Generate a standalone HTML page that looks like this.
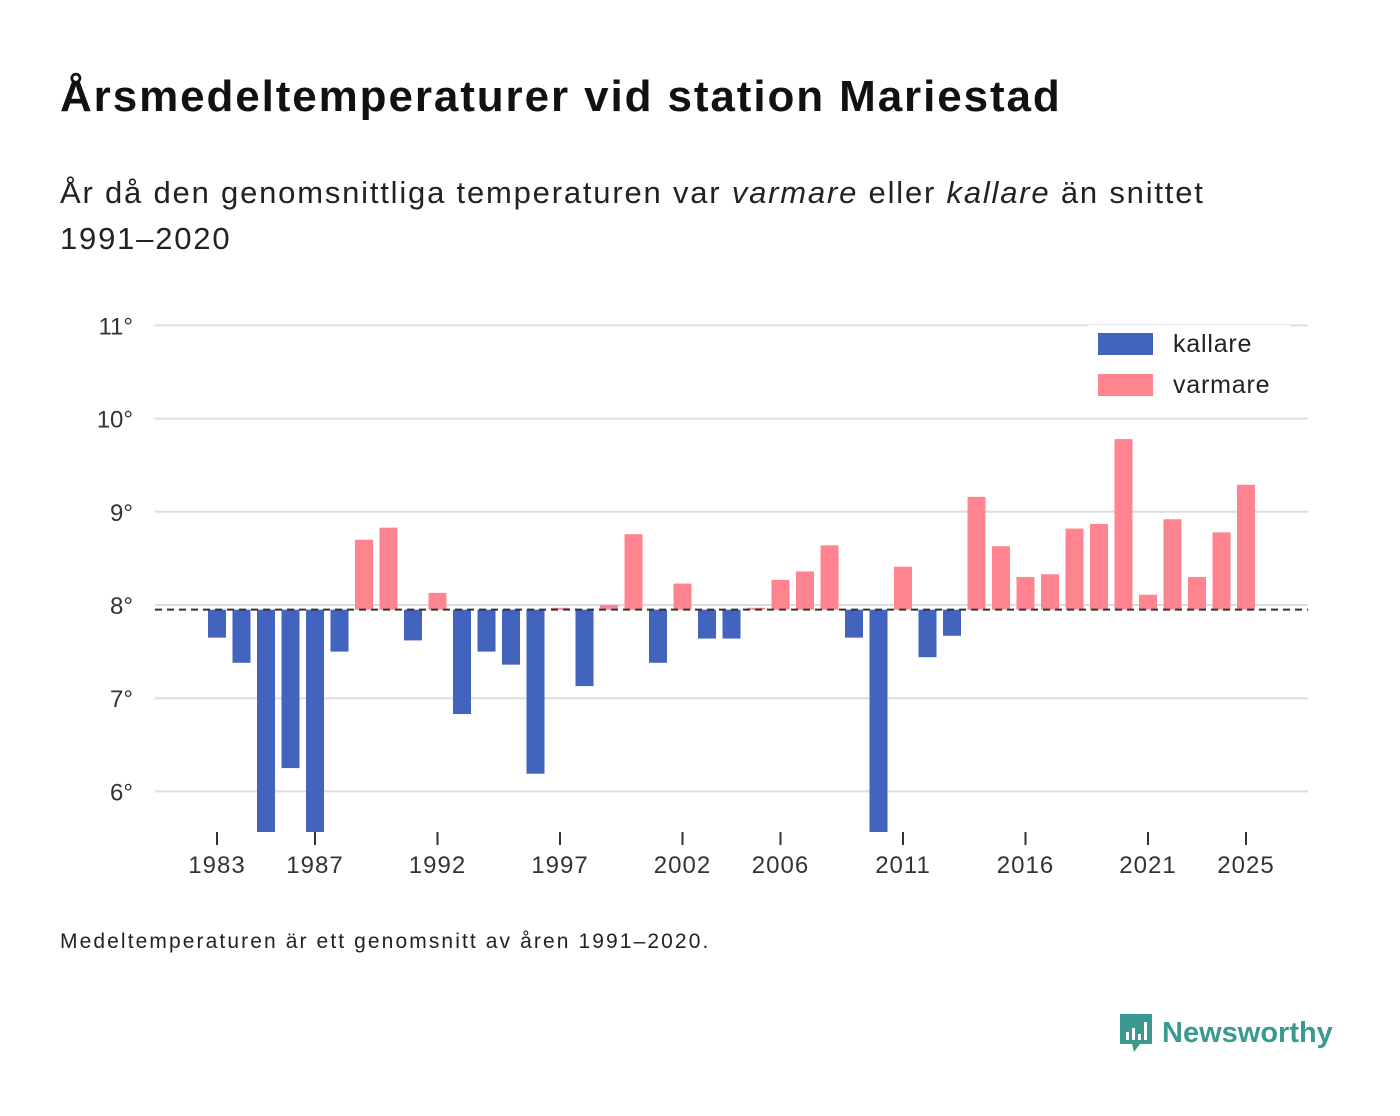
<!DOCTYPE html>
<html><head><meta charset="utf-8"><style>
body{margin:0;background:#fff;font-family:"Liberation Sans","DejaVu Sans",sans-serif;}
#wrap{position:relative;width:1400px;height:1116px;overflow:hidden;}
h1{position:absolute;left:60px;top:72px;margin:0;font-size:44px;letter-spacing:1.9px;font-weight:bold;color:#111;white-space:nowrap;}
.sub{position:absolute;left:60px;top:170px;font-size:31px;letter-spacing:1.8px;color:#222;line-height:46px;width:1210px;}
.note{position:absolute;left:60px;top:930px;font-size:21px;letter-spacing:2.1px;color:#222;}
.logo{position:absolute;left:1118px;top:1012px;font-size:29px;font-weight:bold;color:#3a9a8f;display:flex;align-items:center;gap:8px;}
</style></head><body><div id="wrap">
<h1>Årsmedeltemperaturer vid station Mariestad</h1>
<div class="sub">År då den genomsnittliga temperaturen var <i>varmare</i> eller <i>kallare</i> än snittet 1991–2020</div>
<svg id="chart" width="1400" height="1116" style="position:absolute;left:0;top:0"></svg>
<div class="note">Medeltemperaturen är ett genomsnitt av åren 1991–2020.</div>
<div class="logo"><svg width="36" height="42" viewBox="0 0 36 42"><path d="M2 2h32v30H22l-6 8-2-8H2z" fill="#3a9a8f"/><rect x="8" y="20" width="3" height="8" fill="#fff"/><rect x="14" y="16" width="3" height="12" fill="#fff"/><rect x="20" y="22" width="3" height="6" fill="#fff"/><rect x="26" y="10" width="3" height="18" fill="#fff"/></svg><span>Newsworthy</span></div>
</div>
<script>
const years=[];for(let y=1983;y<=2025;y++)years.push(y);
const values=[7.65,7.38,5.4,6.25,5.4,7.5,8.70,8.83,7.62,8.13,6.83,7.50,7.36,6.19,7.97,7.13,8.0,8.76,7.38,8.23,7.64,7.64,7.97,8.27,8.36,8.64,7.65,5.4,8.41,7.44,7.67,9.16,8.63,8.30,8.33,8.82,8.87,9.78,8.11,8.92,8.30,8.78,9.29];
const mean=7.95;
const yTicks=[6,7,8,9,10,11];
const xTickYears=[1983,1987,1992,1997,2002,2006,2011,2016,2021,2025];
const NS="http://www.w3.org/2000/svg";
const svg=document.getElementById('chart');
const X=y=>217+(y-1983)*24.5;
const Y=v=>605-(v-8)*93.2;
const clipB=832;
function el(t,a){const e=document.createElementNS(NS,t);for(const k in a)e.setAttribute(k,a[k]);svg.appendChild(e);return e;}
yTicks.forEach(t=>{
 const l=el('line',{x1:155,x2:1308,y1:Y(t),y2:Y(t),stroke:'#ddd','stroke-width':2});
 
 
 const tx=el('text',{x:133,y:Y(t)+9,'text-anchor':'end','font-size':24,fill:'#333','font-family':'Liberation Sans, sans-serif'});
 tx.textContent=t+'°';
 
 
});
years.forEach((yr,i)=>{
 const v=values[i];const warm=v>=mean;
 let y1=Y(mean),y2=Y(v);let top=Math.min(y1,y2),bot=Math.min(Math.max(y1,y2),clipB);
 const r=el('rect',{x:X(yr)-9,y:top,width:18,height:Math.max(bot-top,1),fill:warm?'#ff8490':'#4263be'});
 
 
});
const ml=el('line',{x1:155,x2:1308,y1:Y(mean),y2:Y(mean),stroke:'#333','stroke-width':2,'stroke-dasharray':'7,5'});


xTickYears.forEach(yr=>{
 const l=el('line',{x1:X(yr),x2:X(yr),y1:832,y2:845,stroke:'#333','stroke-width':2});
 
 
 const t=el('text',{x:X(yr),y:873,'text-anchor':'middle','font-size':24,'letter-spacing':1,fill:'#333','font-family':'Liberation Sans, sans-serif'});
 t.textContent=yr;
 
 
});
const lb=el('rect',{x:1088,y:325,width:202,height:82,fill:'#fff'});


[['kallare','#4263be',333],['varmare','#ff8490',374]].forEach(([n,c,y])=>{
 const s=el('rect',{x:1098,y:y,width:55,height:22,fill:c});
 
 
 const t=el('text',{x:1173,y:y+19,'font-size':25,'letter-spacing':0.8,fill:'#222','font-family':'Liberation Sans, sans-serif'});
 t.textContent=n;
 
 
});
</script></body></html>
